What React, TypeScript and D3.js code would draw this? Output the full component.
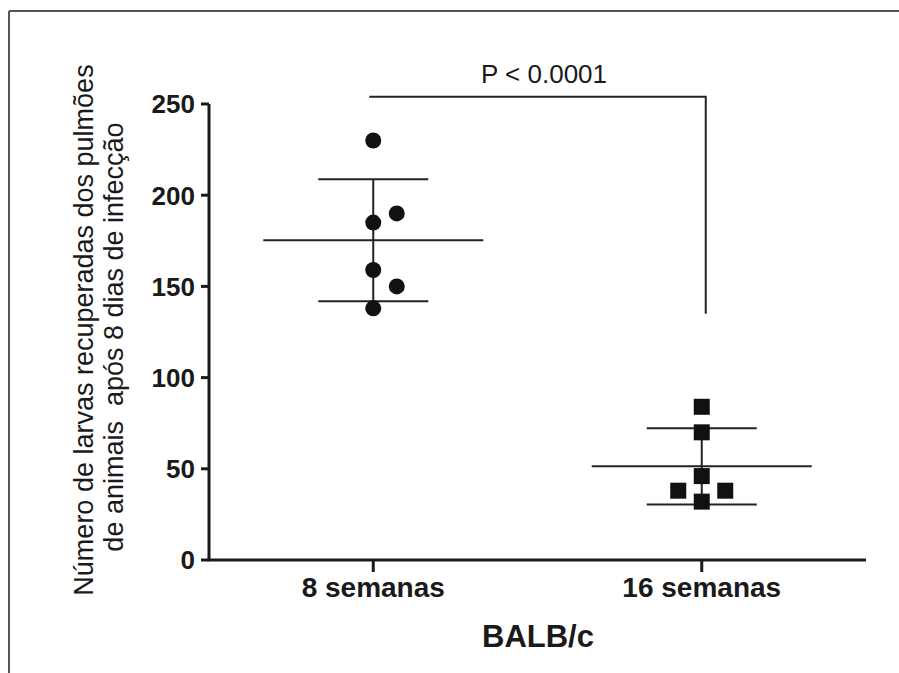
import React from "react";
import * as d3 from "d3";

const categories = ["8 semanas", "16 semanas"];
const values8 = [230, 185, 159, 138, 190, 150];
const values16 = [84, 70, 46, 32, 38, 38];
const yTicks = [0, 50, 100, 150, 200, 250];
const pText = "P < 0.0001";
const xTitle = "BALB/c";
const yTitle1 = "Número de larvas recuperadas dos pulmões";
const yTitle2 = "de animais  após 8 dias de infecção";

const W = 899;
const H = 673;
const ink = "#1a1a1a";

function swarm(vals: number[], y: d3.ScaleLinear<number, number>, thr: number) {
  const placed: { lane: number; py: number }[] = [];
  return vals.map((v) => {
    const py = y(v);
    for (const lane of [0, 1, -1, 2, -2]) {
      const hit = placed.some((p) => p.lane === lane && Math.abs(p.py - py) < thr);
      if (!hit) {
        placed.push({ lane, py });
        return { v, lane, py };
      }
    }
    return { v, lane: 0, py };
  });
}

export default function App() {
  const y = d3.scaleLinear().domain([0, 250]).range([560, 104]);
  const x = d3.scalePoint<string>().domain(categories).range([209, 866]).padding(0.5);
  const groups = [values8, values16];
  const laneW = 23.5;

  return (
    <svg width={W} height={H} style={{ position: "absolute", left: 0, top: 0, background: "#fff" }}
      fontFamily="'Liberation Sans', Arial, sans-serif">
      {/* frame */}
      <line x1={9} x2={W} y1={11} y2={11} stroke="#555" strokeWidth={2} />
      <line x1={9} x2={9} y1={11} y2={H} stroke="#555" strokeWidth={2} />

      {/* y axis */}
      <line x1={209} x2={209} y1={y(250)} y2={y(0)} stroke={ink} strokeWidth={3} />
      {yTicks.map((t) => (
        <g key={t}>
          <line x1={201} x2={209} y1={y(t)} y2={y(t)} stroke={ink} strokeWidth={3} />
          <text x={195} y={y(t)} dy="0.36em" textAnchor="end" fontSize={26} fontWeight="bold" fill={ink}>
            {t}
          </text>
        </g>
      ))}

      {/* x axis */}
      <line x1={207.5} x2={866} y1={y(0)} y2={y(0)} stroke={ink} strokeWidth={3} />
      {categories.map((c) => (
        <g key={c}>
          <line x1={x(c)!} x2={x(c)!} y1={y(0)} y2={y(0) + 12} stroke={ink} strokeWidth={3} />
          <text x={x(c)!} y={597} textAnchor="middle" fontSize={28} fontWeight="bold" fill={ink}>
            {c}
          </text>
        </g>
      ))}
      <text x={538} y={647} textAnchor="middle" fontSize={31} fontWeight="bold" fill={ink}>
        {xTitle}
      </text>

      {/* y title */}
      <g transform="translate(93,330) rotate(-90)">
        <text x={0} y={0} textAnchor="middle" fontSize={27} fill={ink}>{yTitle1}</text>
        <text x={-7} y={30} textAnchor="middle" fontSize={27} fill={ink} style={{ whiteSpace: "pre" }}>{yTitle2}</text>
      </g>

      {/* mean and SD */}
      {groups.map((vals, gi) => {
        const cx = x(categories[gi])!;
        const m = d3.mean(vals)!;
        const sd = d3.deviation(vals)!;
        return (
          <g key={"s" + gi} stroke="#222" strokeWidth={2}>
            <line x1={cx - 110} x2={cx + 110} y1={y(m)} y2={y(m)} />
            <line x1={cx - 55} x2={cx + 55} y1={y(m + sd)} y2={y(m + sd)} />
            <line x1={cx - 55} x2={cx + 55} y1={y(m - sd)} y2={y(m - sd)} />
            <line x1={cx} x2={cx} y1={y(m + sd)} y2={y(m - sd)} />
          </g>
        );
      })}

      {/* points */}
      {swarm(values8, y, 22).map((p, i) => (
        <circle key={"c" + i} cx={x(categories[0])! + p.lane * laneW} cy={p.py} r={8} fill="#111" />
      ))}
      {swarm(values16, y, 22).map((p, i) => (
        <rect key={"r" + i} x={x(categories[1])! + p.lane * laneW - 8} y={p.py - 8} width={16} height={16} fill="#111" />
      ))}

      {/* significance bracket */}
      <path
        d={`M${x(categories[0])! - 4},${y(254)} H${x(categories[1])! + 4} V${y(135)}`}
        fill="none" stroke="#222" strokeWidth={2}
      />
      <text x={544} y={83} textAnchor="middle" fontSize={26} fill={ink}>{pText}</text>
    </svg>
  );
}
